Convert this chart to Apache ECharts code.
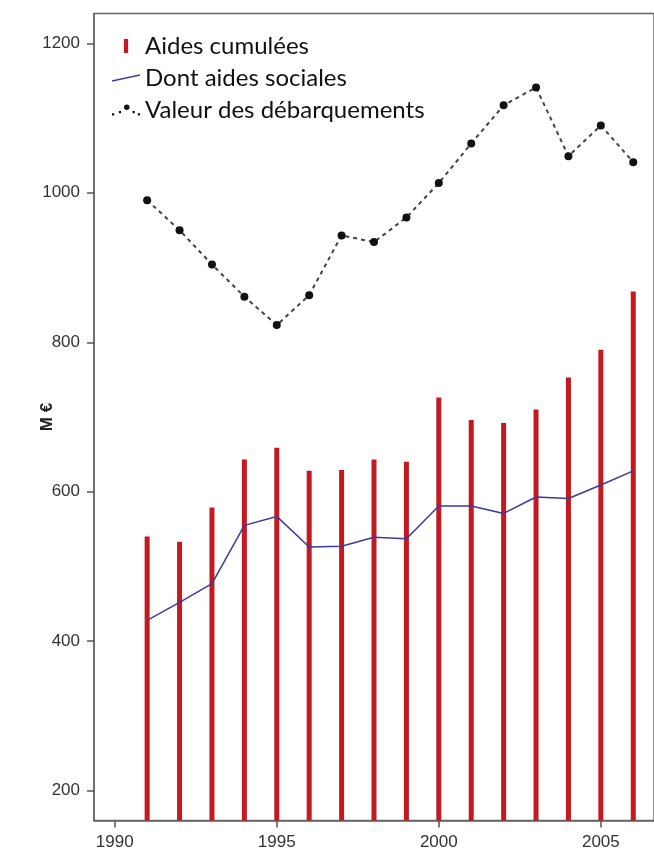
<!DOCTYPE html>
<html lang="fr">
<head>
    <meta charset="UTF-8">
    <title>Aides et débarquements</title>
    <script src="https://cdn.jsdelivr.net/npm/echarts@6/dist/echarts.min.js"></script>
    <style>
        html, body { margin: 0; padding: 0; background: #fff; }
        #main { width: 654px; height: 852px; }
    </style>
</head>
<body>
<div id="main"></div>
<script type="text/javascript">
    // données (M€)
    var annees = [1991, 1992, 1993, 1994, 1995, 1996, 1997, 1998, 1999, 2000, 2001, 2002, 2003, 2004, 2005, 2006];
    var aidesCumulees = [540, 533, 579, 643, 659, 628, 629, 643, 640, 726, 696, 692, 710, 753, 790, 868];
    var aidesSociales = [428, 452, 477, 555, 567, 526, 527, 539, 537, 581, 581, 571, 593, 591, 609, 628];
    var debarquements = [990, 950, 904, 861, 823, 863, 943, 934, 967, 1013, 1066, 1117, 1141, 1049, 1090, 1041];
    var ticksX = [1990, 1995, 2000, 2005];
    var ticksY = [200, 400, 600, 800, 1000, 1200];

    function paires(vals) {
        var out = [];
        for (var i = 0; i < annees.length; i++) {
            out.push([annees[i], vals[i]]);
        }
        return out;
    }

    // pas de séparateur de milliers
    function brut(v) {
        return String(v);
    }

    var myChart = echarts.init(document.getElementById('main'));

    var option = {
        animation: false,
        backgroundColor: '#fff',
        grid: {
            left: 94,
            right: -4,
            top: 13.4,
            bottom: 31.4,
            show: true,
            borderColor: '#666',
            borderWidth: 1.5
        },
        legend: {
            orient: 'vertical',
            left: 107,
            top: 25,
            itemWidth: 28,
            itemHeight: 14,
            itemGap: 0,
            selectedMode: false,
            textStyle: {
                fontFamily: 'Lato',
                fontSize: 24,
                color: '#111',
                lineHeight: 32
            },
            data: [
                {name: 'Aides cumulées', icon: 'path://M0,0h3v10h-3z', itemStyle: {color: '#c41a1f'}},
                {name: 'Dont aides sociales', icon: 'path://M0,9L28,3L28,4.6L0,10.6Z', itemStyle: {color: '#3a3aa0'}},
                {name: 'Valeur des débarquements',
                 icon: 'path://M6,11h1.3v1.3h-1.3z M10,9.6h1.3v1.3h-1.3z M13,7.4a1.6,1.6 0 1,0 3.2,0a1.6,1.6 0 1,0 -3.2,0z M18,9.6h1.3v1.3h-1.3z M21,11h1.3v1.3h-1.3z',
                 itemStyle: {color: '#111'}}
            ]
        },
        xAxis: {
            type: 'value',
            min: 1989.36,
            max: 2006.64,
            splitLine: {show: false},
            axisLine: {show: true, lineStyle: {color: '#666', width: 1.5}},
            axisTick: {
                show: true,
                length: 7,
                customValues: ticksX,
                lineStyle: {color: '#555', width: 1.5}
            },
            axisLabel: {
                customValues: ticksX,
                formatter: brut,
                margin: 13,
                fontFamily: 'Liberation Sans',
                fontSize: 17,
                color: '#333'
            }
        },
        yAxis: {
            type: 'value',
            min: 160,
            max: 1240,
            name: 'M €',
            nameLocation: 'middle',
            nameRotate: 90,
            nameGap: 38,
            nameMoveOverlap: false,
            nameTextStyle: {
                fontFamily: 'Liberation Sans',
                fontWeight: 'bold',
                fontSize: 17,
                color: '#222'
            },
            splitLine: {show: false},
            axisLine: {show: true, lineStyle: {color: '#666', width: 1.5}},
            axisTick: {
                show: true,
                length: 7,
                customValues: ticksY,
                lineStyle: {color: '#555', width: 1.5}
            },
            axisLabel: {
                customValues: ticksY,
                formatter: brut,
                margin: 14,
                fontFamily: 'Liberation Sans',
                fontSize: 17,
                color: '#333'
            }
        },
        series: [
            {
                name: 'Aides cumulées',
                type: 'bar',
                barWidth: 5,
                itemStyle: {color: '#c41a1f'},
                data: paires(aidesCumulees),
                z: 2
            },
            {
                name: 'Dont aides sociales',
                type: 'line',
                symbol: 'none',
                lineStyle: {color: '#3a3aa0', width: 1.5},
                itemStyle: {color: '#3a3aa0'},
                data: paires(aidesSociales),
                z: 3
            },
            {
                name: 'Valeur des débarquements',
                type: 'line',
                symbol: 'circle',
                symbolSize: 8,
                lineStyle: {color: '#444', width: 2, type: [4, 4]},
                itemStyle: {color: '#111'},
                data: paires(debarquements),
                z: 4
            }
        ]
    };

    myChart.setOption(option);
</script>
</body>
</html>
